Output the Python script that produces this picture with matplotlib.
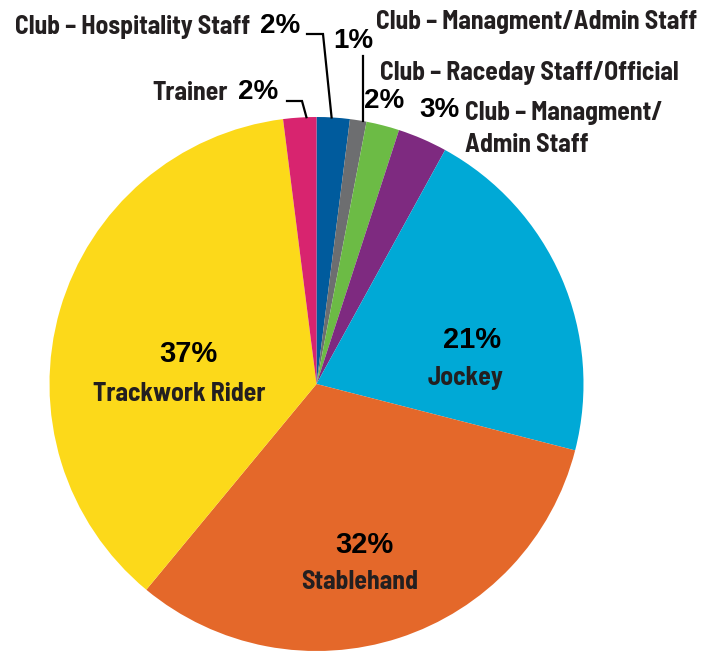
import numpy as np
import matplotlib.pyplot as plt

# data, clockwise from 12 o'clock
labels = ['Club – Hospitality Staff', 'Club – Managment/Admin Staff',
          'Club – Raceday Staff/Official', 'Club – Managment/\nAdmin Staff',
          'Jockey', 'Stablehand', 'Trackwork Rider', 'Trainer']
shares = [2, 1, 2, 3, 21, 32, 37, 2]
colors = ['#005b9d', '#6d6e70', '#6cbb45', '#7e2a80',
          '#00a9d6', '#e4682a', '#fcd91a', '#d8246f']

W, H = 705, 651
cx, cy, R = 316.5, 267, 267   # pie centre/radius in pixel units (y up)

LAB = ['Barlow Semi Condensed', 'DejaVu Sans']
PCT = ['Liberation Sans', 'DejaVu Sans']
ink = '#231f20'
lab_kw = dict(family=LAB, weight='bold', fontsize=18.5, color=ink, va='center')
pct_kw = dict(family=PCT, weight='bold', fontsize=20, color='black', va='center')

fig = plt.figure(figsize=(W / 100, H / 100), dpi=100)
ax = fig.add_axes([0, 0, 1, 1])

wedges, _ = ax.pie(shares, colors=colors, startangle=90, counterclock=False,
                   center=(cx, cy), radius=R, frame=True,
                   wedgeprops=dict(linewidth=0))
ax.set_xlim(0, W)
ax.set_ylim(0, H)
ax.set_aspect('equal')
ax.axis('off')


def y(v):
    # convert top-origin pixel row to axes y
    return H - v


def edge(i, frac=0.5):
    w = wedges[i]
    a = np.deg2rad(w.theta1 + (w.theta2 - w.theta1) * frac)
    return cx + R * np.cos(a), cy + R * np.sin(a)


# labels inside the big slices
inside = {6: (188, 354, 179, 394), 4: (472, 340, 466, 378), 5: (364, 545, 360, 582)}
for i, (px, py, lx, ly) in inside.items():
    ax.text(px, y(py), f'{shares[i]}%', ha='center', **dict(pct_kw, fontsize=21))
    ax.text(lx, y(ly), labels[i], ha='center', **lab_kw)

# small slices: outside labels
ax.text(250, y(27), labels[0], ha='right', **lab_kw)
ax.text(260, y(26), f'{shares[0]}%', ha='left', **pct_kw)
ex, ey = edge(0, 0.55)
ax.plot([307, 323, ex], [y(34), y(34), ey], color='black', lw=1.6,
        solid_joinstyle='miter')

ax.text(333, y(41), f'{shares[1]}%', ha='left', **pct_kw)
ax.text(376, y(22), labels[1], ha='left', **lab_kw)
ex, ey = edge(1, 0.2)
ax.plot([ex, ex], [y(56), ey], color='black', lw=1.6)

ax.text(380, y(73), labels[2], ha='left', **lab_kw)
ax.text(364, y(101), f'{shares[2]}%', ha='left', **pct_kw)

ax.text(419, y(110), f'{shares[3]}%', ha='left', **pct_kw)
ax.text(465, y(113), 'Club – Managment/', ha='left', **lab_kw)
ax.text(465, y(145), 'Admin Staff', ha='left', **lab_kw)

ax.text(228, y(93), labels[7], ha='right', **lab_kw)
ax.text(238, y(92), f'{shares[7]}%', ha='left', **pct_kw)
ex, ey = edge(7, 0.3)
ax.plot([287, 302, ex], [y(101), y(101), ey], color='black', lw=1.6,
        solid_joinstyle='miter')

fig.savefig('out.png', dpi=100)
